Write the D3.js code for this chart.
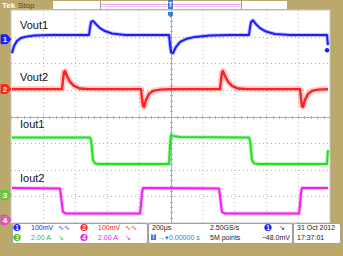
<!DOCTYPE html>
<html>
<head>
<meta charset="utf-8">
<title>Scope capture</title>
<script src="https://cdn.jsdelivr.net/npm/d3@7"></script>
<style>
    body { margin: 0; background: #bba96b; }
    svg { display: block; font-family: "Liberation Sans", Arial, sans-serif; }
    .grid { stroke: #b0b0b0; stroke-width: 1px; stroke-dasharray: 1,3; }
    .center { stroke: #a8acc4; stroke-width: 1px; }
    .tick { stroke: #a8acc4; stroke-width: 1px; }
    .label { font-size: 11px; fill: #111; }
    .info { font-size: 7px; }
    .box { fill: #fff; stroke: #a0a0a0; stroke-width: 1px; }
</style>
</head>
<body>
<script>
var width = 343, height = 256;
var plot = {left: 11, right: 330, top: 10, bottom: 223};

// time base: 200 us/div, trigger at centre
var timeDomain = [-1000, 1000];

// channel settings: scale per division and ground marker position (div)
var channelNames = ["Vout1", "Vout2", "Iout1", "Iout2"];
var channelScale = [100, 100, 2, 2];          // mV/div, mV/div, A/div, A/div
var channelPos = [2.9, 1.03, -2.95, -3.88];
var channelColor = ["#1c1cff", "#ff2020", "#22e022", "#f020f0"];

// Vout1 (mV)
var ch1Time = [-994,-981,-962,-937,-906,-850,-755,-511,-505,-498,-486,-467,-442,-411,-367,-285,-9,-3,3,16,34,60,97,154,248,373,492,498,505,517,536,561,599,655,749,981,987];
var ch1Val = [-52,-25,-6,5,10,14,16,16,42,65,69,57,42,31,22,16,16,-22,-48,-52,-29,-10,1,9,14,16,16,42,65,71,57,42,29,20,16,16,-22];

// Vout2 (mV)
var ch2Time = [-994,-680,-674,-668,-661,-649,-630,-605,-567,-505,-185,-179,-172,-166,-154,-135,-110,-66,-3,310,317,323,329,342,361,386,423,486,812,818,824,831,843,862,887,925,987];
var ch2Val = [0,0,34,64,68,49,27,12,2,0,0,-34,-64,-67,-41,-18,-7,-2,0,0,34,64,68,49,27,12,2,0,0,-34,-64,-67,-41,-18,-7,-2,0];

// Iout1 (A)
var ch3Time = [-994,-505,-498,-492,-486,-473,-442,-9,-3,3,16,60,492,498,505,511,524,561,981,987];
var ch3Val = [4.32,4.32,4.13,3.38,2.63,2.37,2.33,2.33,3.76,4.51,4.44,4.36,4.32,4.13,3.38,2.63,2.37,2.33,2.33,3.38];

// Iout2 (A)
var ch4Time = [-994,-693,-687,-680,-674,-655,-191,-185,-179,-172,-129,304,310,317,323,342,806,812,818,824,987];
var ch4Val = [2.39,2.35,1.86,1.11,0.59,0.47,0.47,1.11,2.01,2.39,2.39,2.35,1.86,1.11,0.59,0.47,0.47,1.11,2.01,2.39,2.39];

var traceTimes = [ch1Time, ch2Time, ch3Time, ch4Time];
var traceVals = [ch1Val, ch2Val, ch3Val, ch4Val];
var labelBaseline = [29, 81, 128, 182];

// readouts
var readRow1 = ["100mV", "100mV"];
var readRow2 = ["2.00 A", "2.00 A"];
var horizScale = "200\u00b5s", sampleRate = "2.50GS/s", recLen = "5M points";
var trigDelay = "0.00000 s", trigLevel = "\u221248.0mV";
var dateText = "31 Oct  2012", timeText = "17:37:01";

var x = d3.scaleLinear().domain(timeDomain).range([plot.left, plot.right]);
var y = d3.scaleLinear().domain([-4, 4]).range([plot.bottom, plot.top]);

var svg = d3.select("body").append("svg")
    .attr("width", width)
    .attr("height", height);

// screen
svg.append("rect")
    .attr("x", plot.left).attr("y", plot.top)
    .attr("width", plot.right - plot.left).attr("height", plot.bottom - plot.top)
    .attr("fill", "#fff").attr("stroke", "#c8c8c8");

// graticule
svg.selectAll(".vgrid").data(d3.range(-800, 1000, 200).filter(function (d) { return d !== 0; }))
    .enter().append("line").attr("class", "grid")
    .attr("x1", function (d) { return x(d) + 0.5; }).attr("x2", function (d) { return x(d) + 0.5; })
    .attr("y1", plot.top).attr("y2", plot.bottom);
svg.selectAll(".hgrid").data([-3, -2, -1, 1, 2, 3])
    .enter().append("line").attr("class", "grid")
    .attr("x1", plot.left).attr("x2", plot.right)
    .attr("y1", function (d) { return Math.round(y(d)) + 0.5; })
    .attr("y2", function (d) { return Math.round(y(d)) + 0.5; });

var cx = Math.round(x(0)) + 0.5, cy = Math.round(y(0)) + 0.5;
svg.append("line").attr("class", "center").attr("x1", cx).attr("x2", cx).attr("y1", plot.top).attr("y2", plot.bottom);
svg.append("line").attr("class", "center").attr("x1", plot.left).attr("x2", plot.right).attr("y1", cy).attr("y2", cy);
svg.selectAll(".xt").data(d3.range(-1000, 1000, 40))
    .enter().append("line").attr("class", "tick")
    .attr("x1", function (d) { return Math.round(x(d)) + 0.5; }).attr("x2", function (d) { return Math.round(x(d)) + 0.5; })
    .attr("y1", cy - 1.5).attr("y2", cy + 1.5);
svg.selectAll(".yt").data(d3.range(-4, 4, 0.2))
    .enter().append("line").attr("class", "tick")
    .attr("y1", function (d) { return Math.round(y(d)) + 0.5; }).attr("y2", function (d) { return Math.round(y(d)) + 0.5; })
    .attr("x1", cx - 1.5).attr("x2", cx + 1.5);

// traces
traceTimes.forEach(function (times, i) {
    var pts = times.map(function (t, k) { return [t, traceVals[i][k]]; });
    var line = d3.line()
        .x(function (d) { return x(d[0]); })
        .y(function (d) { return y(channelPos[i] + d[1] / channelScale[i]); });
    var g = svg.append("g");
    g.append("path").datum(pts).attr("d", line)
        .attr("fill", "none").attr("stroke", channelColor[i])
        .attr("stroke-opacity", i === 1 ? 0.22 : 0.28).attr("stroke-width", i === 1 ? 6 : 4)
        .attr("stroke-linejoin", "round");
    g.append("path").datum(pts).attr("d", line)
        .attr("fill", "none").attr("stroke", channelColor[i])
        .attr("stroke-width", i === 1 ? 2.4 : 2)
        .attr("stroke-linejoin", "round");
    svg.append("text").attr("class", "label")
        .attr("x", 20).attr("y", labelBaseline[i]).text(channelNames[i]);
});

// channel ground markers
channelPos.forEach(function (p, i) {
    var my = y(p);
    var g = svg.append("g").attr("transform", "translate(1," + my + ")");
    g.append("path").attr("d", "M0,-4.5 H6 L10,0 L6,4.5 H0 Z")
        .attr("fill", channelColor[i]).attr("fill-opacity", i < 2 ? 1 : 0.45)
        .attr("stroke", channelColor[i]).attr("stroke-width", 0.8);
    g.append("text").attr("x", 4).attr("y", 3).attr("text-anchor", "middle")
        .attr("font-size", "8px").attr("font-weight", "bold").attr("fill", "#fff").text(i + 1);
});

// trigger level marker
svg.append("circle").attr("cx", 327).attr("cy", y(channelPos[0] + 0.0)).attr("r", 2.2)
    .attr("fill", channelColor[0]).attr("transform", "translate(0,11)");

// top bar
svg.append("text").attr("x", 2).attr("y", 8).attr("font-size", "8px").attr("font-weight", "bold")
    .attr("fill", "#fff").text("Tek");
svg.append("text").attr("x", 18).attr("y", 8).attr("font-size", "8px").attr("fill", "#5a4a20").text("Stop");
svg.append("rect").attr("x", 53).attr("y", 1).attr("width", 234).attr("height", 8).attr("fill", "#fff");
svg.append("line").attr("x1", 100).attr("x2", 241).attr("y1", 4.5).attr("y2", 4.5).attr("stroke", "#f0a0f0");
svg.append("line").attr("x1", 100).attr("x2", 241).attr("y1", 6.5).attr("y2", 6.5).attr("stroke", "#f8c8f8");
[100.5, 241.5].forEach(function (v) {
    svg.append("line").attr("x1", v).attr("x2", v).attr("y1", 1).attr("y2", 9).attr("stroke", "#999");
});
svg.append("rect").attr("x", x(0) - 2.5).attr("y", 0).attr("width", 5).attr("height", 9).attr("fill", "#3a7ad8");
svg.append("text").attr("x", x(0)).attr("y", 7).attr("text-anchor", "middle").attr("font-size", "7px")
    .attr("font-weight", "bold").attr("fill", "#fff").text("T");
svg.append("path").attr("d", "M" + (x(0) - 2.5) + ",12 h5 v3 l-2.5,2.5 l-2.5,-2.5 Z").attr("fill", "#3a7ad8");

// readout panel
var boxes = [[12, 135], [148, 144], [293, 47]];
boxes.forEach(function (b) {
    svg.append("rect").attr("class", "box").attr("x", b[0] + 0.5).attr("y", 223.5)
        .attr("width", b[1]).attr("height", 20).attr("rx", 2);
});

function badge(px, py, col, label) {
    svg.append("circle").attr("cx", px).attr("cy", py).attr("r", 3.6).attr("fill", col);
    svg.append("text").attr("x", px).attr("y", py + 2.3).attr("text-anchor", "middle")
        .attr("font-size", "6.5px").attr("font-weight", "bold").attr("fill", "#fff").text(label);
}

badge(17, 227.5, channelColor[0], "1");
badge(84, 227.5, channelColor[1], "2");
badge(17, 237.5, "#2cc02c", "3");
badge(84, 237.5, channelColor[3], "4");

var infoCols = [[31, channelColor[0], readRow1[0], 0], [98, channelColor[1], readRow1[1], 0],
                [31, "#2cc02c", readRow2[0], 1], [98, channelColor[3], readRow2[1], 1]];
infoCols.forEach(function (c) {
    svg.append("text").attr("class", "info").attr("x", c[0]).attr("y", c[3] ? 240 : 230)
        .attr("fill", c[1]).text(c[2]);
    svg.append("text").attr("class", "info").attr("x", c[0] + 27).attr("y", c[3] ? 240 : 230)
        .attr("fill", c[1]).text(c[3] ? "\u2198" : "\u223f\u223f");
});

svg.append("text").attr("class", "info").attr("x", 152).attr("y", 230).attr("fill", "#222").text(horizScale);
svg.append("text").attr("class", "info").attr("x", 210).attr("y", 230).attr("fill", "#222").text(sampleRate);
svg.append("rect").attr("x", 151).attr("y", 234).attr("width", 5).attr("height", 6).attr("fill", "#3a7ad8");
svg.append("text").attr("class", "info").attr("x", 153.5).attr("y", 239).attr("text-anchor", "middle")
    .attr("font-size", "5px").attr("fill", "#fff").text("T");
svg.append("text").attr("class", "info").attr("x", 158).attr("y", 240).attr("fill", "#3a7ad8").text("\u2192\u25be" + trigDelay);
svg.append("text").attr("class", "info").attr("x", 210).attr("y", 240).attr("fill", "#222").text(recLen);
badge(268, 227.5, channelColor[0], "1");
svg.append("text").attr("class", "info").attr("x", 279).attr("y", 230).attr("fill", "#222").text("\u2198");
svg.append("text").attr("class", "info").attr("x", 290).attr("y", 240).attr("text-anchor", "end")
    .attr("fill", "#222").text(trigLevel);
svg.append("text").attr("class", "info").attr("x", 297).attr("y", 230).attr("fill", "#222").text(dateText);
svg.append("text").attr("class", "info").attr("x", 297).attr("y", 240).attr("fill", "#222").text(timeText);
</script>
</body>
</html>
